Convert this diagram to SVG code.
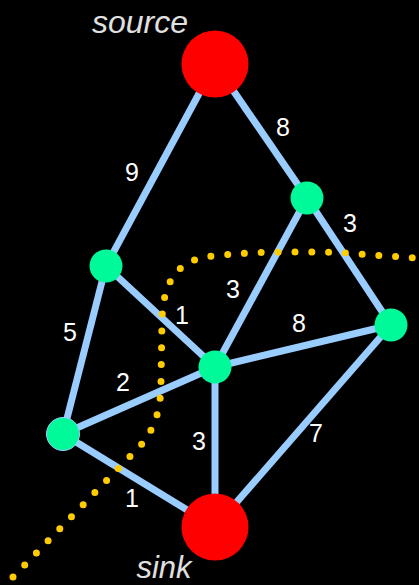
<svg xmlns="http://www.w3.org/2000/svg" width="419" height="585" viewBox="0 0 419 585">
<style>
.edge{stroke:#99ccff;stroke-width:7;fill:none}
.green{fill:#00fa9a}
.red{fill:#ff0000}
.w{fill:#ffffff;font-family:"Liberation Sans",Arial,sans-serif;font-size:25px;text-anchor:middle}
.lbl{fill:#e0e0e0;font-family:"Liberation Sans",Arial,sans-serif;font-size:32px;font-style:italic;text-anchor:middle}
.cut{stroke:#ffcc00;stroke-width:7;stroke-linecap:round;stroke-dasharray:0 16.8;fill:none}
</style>
<rect width="419" height="585" fill="#000"/>
<g id="connectors">
<line class="edge" x1="215" y1="64" x2="307" y2="198"/>
<line class="edge" x1="215" y1="64" x2="106" y2="266"/>
<line class="edge" x1="307" y1="198" x2="391" y2="325"/>
<line class="edge" x1="307" y1="198" x2="215" y2="367"/>
<line class="edge" x1="106" y1="266" x2="215" y2="367"/>
<line class="edge" x1="106" y1="266" x2="63" y2="434"/>
<line class="edge" x1="215" y1="367" x2="391" y2="325"/>
<line class="edge" x1="63" y1="434" x2="215" y2="367"/>
<line class="edge" x1="215" y1="367" x2="215" y2="527"/>
<line class="edge" x1="391" y1="325" x2="215" y2="527"/>
<line class="edge" x1="63" y1="434" x2="215" y2="527"/>
</g>
<g id="cut">
<path class="cut" d="M13,577 L141,445 C155,428 161,410 161,381 L162,320 C163,285 175,258 215,256 C250,251 330,251 360,254 C385,256 405,257 440,260"/>
</g>
<g id="weights">
<text class="w" x="132" y="181">9</text>
<text class="w" x="283" y="136">8</text>
<text class="w" x="350" y="232">3</text>
<text class="w" x="70" y="341">5</text>
<text class="w" x="233" y="298">3</text>
<text class="w" x="182" y="324">1</text>
<text class="w" x="299" y="332">8</text>
<text class="w" x="123" y="391">2</text>
<text class="w" x="199" y="450">3</text>
<text class="w" x="316" y="442">7</text>
<text class="w" x="132" y="507">1</text>
</g>
<g id="source"><circle class="red" cx="215" cy="64" r="33.5"/><text class="lbl" x="140" y="33">source</text></g>
<g id="sink"><circle class="red" cx="215" cy="527" r="33.5"/><text class="lbl" x="164" y="578" style="font-size:31px">sink</text></g>
<g id="n1"><circle class="green" cx="307" cy="198" r="16.5"/></g>
<g id="n2"><circle class="green" cx="106" cy="266" r="16.5"/></g>
<g id="n3"><circle class="green" cx="391" cy="325" r="16.5"/></g>
<g id="n4"><circle class="green" cx="215" cy="367" r="16.5"/></g>
<g id="n5"><circle class="green" cx="63" cy="434" r="16.5" stroke="#99ccff" stroke-width="1"/></g>
</svg>
